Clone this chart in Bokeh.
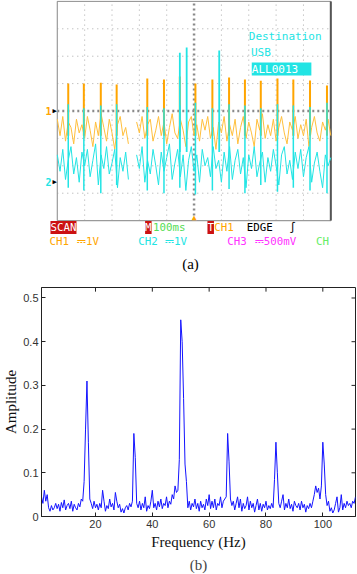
import numpy as np
from bokeh.plotting import figure
from bokeh.models import Range1d, Label, Title, FixedTicker, CustomJSTickFormatter
from bokeh.layouts import column
from bokeh.embed import file_html
from bokeh.resources import INLINE

nan = np.nan

# ---------------- (a) oscilloscope capture (units: divisions) ----------------
sample_step = 0.1
ch1_base = [-0.3, -0.9, -0.2, -1.1, -0.4, -0.6, -1.2, -0.3, -0.8, -0.5,
            -1.0, -0.2, -0.7, -1.3, -0.4, -0.9, -0.1, -0.6, -1.1, -0.3,
            -0.8, -1.4, -0.5, -0.2, -0.9, -0.6, -1.2, nan, nan, -0.4,
            -0.8, -0.2, -1.0, -0.5, -0.3, -1.1, -0.7, -0.2, -0.9, -0.4,
            -1.2, -0.6, -0.1, -0.8, -1.0, -0.3, -0.7, -1.3, -0.4, -0.2,
            -0.9, -0.5, -1.1, -0.3, -0.7, -0.2, -1.0, -0.6, -1.4, -0.4,
            -0.8, -0.2, -1.1, -0.5, -0.9, -0.3, -1.2, -0.6, -0.2, -1.0,
            -0.4, -0.8, -1.3, -0.3, -0.7, -0.1, -1.0, -0.5, -0.9, -0.3,
            -1.1, -0.6, -0.2, -0.8, -1.2, -0.4, -0.7, -0.2, -1.0, -0.5,
            -0.9, -0.3, -1.3, -0.6, -0.2, -0.8, -1.1, -0.4, -0.7, -0.3,
            -0.9]
ch2_base = [-1.6, -2.2, -1.4, -2.5, -1.8, -1.3, -2.3, -1.7, -2.6, -1.5,
            -2.0, -1.4, -2.4, -1.8, -1.2, -2.7, -1.6, -2.1, -1.3, -2.3,
            -1.9, -1.4, -2.8, -1.7, -2.2, -1.5, -2.5, nan, nan, -1.6,
            -2.1, -1.3, -2.6, -1.8, -2.3, -1.4, -2.0, -2.7, -1.5, -2.2,
            -1.7, -1.2, -2.5, -1.9, -1.4, -2.4, -1.6, -2.9, -1.8, -1.3,
            -2.2, -1.6, -2.6, -1.4, -2.0, -1.7, -2.4, -1.3, -2.1, -1.8,
            -2.6, -1.5, -2.2, -1.3, -2.5, -1.8, -1.4, -2.3, -1.7, -2.8,
            -1.6, -2.1, -1.3, -2.4, -1.9, -1.5, -2.6, -1.7, -2.2, -1.4,
            -2.0, -2.7, -1.6, -1.3, -2.3, -1.8, -2.5, -1.5, -2.1, -1.4,
            -2.4, -1.7, -1.3, -2.6, -1.9, -1.5, -2.2, -2.8, -1.6, -2.0,
            -1.7]
spike_t = [0.40, 0.97, 1.59, 2.17, 3.29, 3.90, 4.48, 5.05, 5.67, 6.28,
           6.86, 7.44, 8.05, 8.63, 9.24, 9.86]
ch1_spike_top = [1.0, 1.0, 1.03, 0.97, 1.19, 1.15, 1.26, 1.0, 1.15, 1.22,
                 1.15, 1.1, 1.19, 1.15, 1.11, 0.93]
ch2_spike_top = [0.25, 0.1, 0.2, 0.25, 0.15, 0.1, 0.2, 0.3, 0.1, 0.25,
                 0.2, 0.1, 0.25, 0.2, 0.15, 0.3]
ch2_spike_bottom = [-2.8, -2.9, -3.0, -2.7, -2.9, -3.0, -2.8, -3.05, -2.9, -2.85,
                    -3.0, -2.7, -2.95, -2.8, -2.9, -3.0]
ch2_burst_t = [4.48, 4.73, 5.92]
ch2_burst_top = [2.13, 2.32, 2.21]
grid_x = [1, 2, 3, 4, 6, 7, 8, 9]
grid_y = [-3, -2, -1, 1, 2, 3]

# ---------------- (b) spectrum ----------------
f_start, f_step = 1.0, 0.5
amplitude = [
    0.045, 0.03, 0.06, 0.035, 0.05, 0.02, 0.012, 0.025, 0.015, 0.02,
    0.03, 0.018, 0.028, 0.012, 0.032, 0.02, 0.038, 0.015, 0.025, 0.03,
    0.018, 0.035, 0.012, 0.028, 0.02, 0.015, 0.03, 0.022, 0.04, 0.035,
    0.08, 0.20, 0.31, 0.17, 0.04, 0.03, 0.018, 0.035, 0.02, 0.028,
    0.015, 0.03, 0.02, 0.06, 0.035, 0.012, 0.025, 0.018, 0.04, 0.022,
    0.03, 0.015, 0.055, 0.035, 0.02, 0.028, 0.01, 0.018, 0.008, 0.02,
    0.025, 0.015, 0.03, 0.022, 0.035, 0.19, 0.135, 0.03, 0.02, 0.035,
    0.015, 0.03, 0.02, 0.045, 0.012, 0.025, 0.018, 0.035, 0.06, 0.02,
    0.03, 0.015, 0.035, 0.022, 0.04, 0.018, 0.03, 0.025, 0.045, 0.02,
    0.035, 0.028, 0.05, 0.04, 0.07, 0.055, 0.06, 0.13, 0.45, 0.40,
    0.27, 0.12, 0.08, 0.02, 0.035, 0.015, 0.03, 0.022, 0.04, 0.018,
    0.03, 0.012, 0.035, 0.02, 0.028, 0.015, 0.04, 0.025, 0.05, 0.018,
    0.035, 0.02, 0.04, 0.015, 0.03, 0.025, 0.045, 0.02, 0.035, 0.04,
    0.045, 0.19, 0.125, 0.04, 0.025, 0.035, 0.015, 0.03, 0.045, 0.02,
    0.04, 0.012, 0.03, 0.018, 0.025, 0.045, 0.015, 0.035, 0.02, 0.03,
    0.01, 0.025, 0.04, 0.015, 0.03, 0.012, 0.028, 0.02, 0.035, 0.015,
    0.025, 0.018, 0.03, 0.02, 0.085, 0.17, 0.10, 0.03, 0.02, 0.035,
    0.05, 0.015, 0.03, 0.02, 0.04, 0.018, 0.028, 0.012, 0.035, 0.025,
    0.02, 0.03, 0.015, 0.035, 0.02, 0.028, 0.01, 0.025, 0.018, 0.03,
    0.02, 0.035, 0.05, 0.07, 0.055, 0.065, 0.04, 0.07, 0.17, 0.12,
    0.05, 0.025, 0.035, 0.012, 0.02, 0.008, 0.015, 0.03, 0.045, 0.01,
    0.02, 0.05, 0.015, 0.03, 0.02, 0.035, 0.025, 0.03, 0.02, 0.035,
    0.03, 0.045]
x_ticks = [20, 40, 60, 80, 100]
y_ticks = [0, 0.1, 0.2, 0.3, 0.4, 0.5]

ORANGE = "#ffa500"
ORANGE_L = "#ffbf3c"
CYAN = "#22e4e4"
MAG = "#ff33ff"
GREEN = "#55dd55"
RED = "#cc1111"
MONO = "DejaVu Sans Mono"
SERIF = "Liberation Serif"

BORDER_L, BORDER_R = 37, 2   # shared so that both frames line up in the column

# ---------------- figure (a) ----------------
pa = figure(width=357, height=276, x_range=Range1d(-0.578, 10.903), y_range=Range1d(-6.040, 4.033),
            output_backend="svg", toolbar_location=None, x_axis_location=None, y_axis_location=None,
            min_border=0, min_border_left=BORDER_L, min_border_right=BORDER_R,
            min_border_top=0, min_border_bottom=0)
pa.xgrid.visible = False
pa.ygrid.visible = False
pa.outline_line_color = None

# graticule
pa.segment(x0=grid_x, y0=-4, x1=grid_x, y1=4, line_color="#a8a8a8", line_width=1, line_dash="1 4")
pa.segment(x0=0, y0=grid_y, x1=10, y1=grid_y, line_color="#a8a8a8", line_width=1, line_dash="1 4")
pa.segment(x0=[5, 0], y0=[-4, 0], x1=[5, 10], y1=[4, 0], line_color="#8a8a8a", line_width=2.5, line_dash="2 3")
pa.quad(left=0, right=10, bottom=-4, top=4, fill_color=None, line_color="#9a9a9a", line_width=1.2)
pa.segment(x0=10, y0=-4, x1=10, y1=4, line_color="#555555", line_width=2)

t = [i * sample_step for i in range(len(ch1_base))]
pa.line(t, ch1_base, line_color=ORANGE_L, line_width=1)
pa.segment(x0=spike_t, y0=-0.9, x1=spike_t, y1=ch1_spike_top, line_color=ORANGE, line_width=2)
pa.line(t, ch2_base, line_color=CYAN, line_width=1)
pa.segment(x0=spike_t, y0=ch2_spike_bottom, x1=spike_t, y1=ch2_spike_top, line_color=CYAN, line_width=1.5)
pa.segment(x0=ch2_burst_t, y0=-1.5, x1=ch2_burst_t, y1=ch2_burst_top, line_color=CYAN, line_width=1.8)


def lab(x, y, text, color, size="10.8px", bg=None, font=MONO, align="left", style="normal"):
    kw = dict(x=x, y=y, text=text, text_color=color, text_font=font, text_font_size=size,
              text_baseline="middle", text_align=align, text_font_style=style)
    if bg is not None:
        kw.update(background_fill_color=bg, padding=0)
    pa.add_layout(Label(**kw))


# channel markers
lab(-0.32, 0, "1", ORANGE, size="10px", align="center", style="bold")
lab(-0.1, 0, "▶", "#000000", size="7px", align="center")
lab(-0.32, -2.6, "2", CYAN, size="10px", align="center", style="bold")
lab(-0.1, -2.6, "▶", "#000000", size="7px", align="center")
lab(5.0, -3.9, "▲", ORANGE, size="8px", align="center")

# destination box
lab(7.0, 2.72, "Destination", CYAN, size="11px")
lab(7.08, 2.13, "USB", CYAN, size="11px")
lab(7.11, 1.53, " ALL0013 ", "#ffffff", size="11px", bg=CYAN)

# status rows
r1, r2 = -4.25, -4.76
lab(-0.25, r1, "SCAN", "#ffffff", bg=RED)
lab(3.21, r1, "M", "#ffffff", bg=RED)
lab(3.50, r1, "100ms", GREEN)
lab(5.49, r1, "T", "#ffffff", bg=RED)
lab(5.74, r1, "CH1", ORANGE)
lab(6.93, r1, "EDGE", "#000000")
lab(8.48, r1, "∫", "#000000")
lab(-0.29, r2, "CH1", ORANGE)
lab(0.72, r2, "⎓1V", ORANGE)
lab(2.96, r2, "CH2", CYAN)
lab(3.94, r2, "⎓1V", CYAN)
lab(6.21, r2, "CH3", MAG)
lab(7.22, r2, "⎓500mV", MAG)
lab(9.46, r2, "CH", "#66ee66")
lab(4.87, -5.57, "(a)", "#000000", size="15px", font=SERIF, align="center")

# ---------------- figure (b) ----------------
pb = figure(width=357, height=298, x_range=Range1d(1, 111.5), y_range=Range1d(0, 0.524),
            output_backend="svg", toolbar_location=None,
            min_border_top=11, min_border_right=BORDER_R, min_border_left=BORDER_L, min_border_bottom=0)
freq = [f_start + f_step * i for i in range(len(amplitude))]
pb.line(freq, amplitude, line_color="#1414ff", line_width=1)
pb.xgrid.visible = False
pb.ygrid.visible = False
pb.outline_line_color = "#222222"

# inward ticks on the top and right sides of the box
x_top = pb.y_range.end
x_tick_len = 0.0095
y_right = pb.x_range.end
y_tick_len = 1.4
pb.segment(x0=x_ticks, y0=x_top, x1=x_ticks, y1=x_top - x_tick_len, line_color="#222222", line_width=1)
pb.segment(x0=y_right, y0=y_ticks, x1=y_right - y_tick_len, y1=y_ticks, line_color="#222222", line_width=1)

xa = pb.xaxis[0]
ya = pb.yaxis[0]
xa.ticker = FixedTicker(ticks=x_ticks)
ya.ticker = FixedTicker(ticks=y_ticks)
ya.formatter = CustomJSTickFormatter(code="return tick === 0 ? '0' : tick.toFixed(1);")
for ax in (xa, ya):
    ax.major_tick_in = 4
    ax.major_tick_out = 0
    ax.minor_tick_line_color = None
    ax.axis_line_color = "#222222"
    ax.major_tick_line_color = "#222222"
    ax.major_label_text_font = "Liberation Sans"
    ax.major_label_text_font_size = "11px"
    ax.major_label_text_color = "#333333"
    ax.axis_label_text_font = SERIF
    ax.axis_label_text_font_size = "15px"
    ax.axis_label_text_font_style = "normal"
    ax.axis_label_text_color = "#111111"
xa.axis_label = "Frequency (Hz)"
ya.axis_label = "Amplitude"
xa.major_label_standoff = 3
xa.axis_label_standoff = 3
ya.major_label_standoff = 3
ya.axis_label_standoff = 1

pb.add_layout(Title(text="(b)", align="center", text_font=SERIF, text_font_size="15px",
                    text_font_style="normal", standoff=4), "below")

layout = column(pa, pb)
open("out.html", "w").write(file_html(layout, INLINE))
